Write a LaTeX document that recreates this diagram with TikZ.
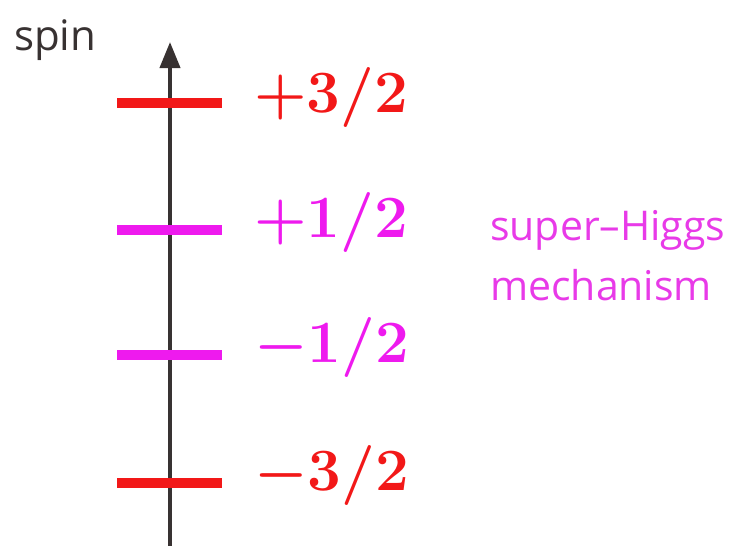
\RequirePackage{fix-cm}
\documentclass[tikz,border=0pt]{standalone}
\usepackage{fontspec}
\newfontfamily\labelsans{Open Sans}
\usetikzlibrary{arrows.meta}
\definecolor{axisgray}{HTML}{383232}
\definecolor{spinred}{HTML}{F21818}
\definecolor{spinmag}{HTML}{EE1AEE}
\definecolor{textmag}{HTML}{E83AE8}
\tikzset{
  levelbar/.style={line width=10pt},
  spinlabel/.style={anchor=base west, inner sep=0pt, font=\fontsize{60}{62}\selectfont\boldmath},
  sidetext/.style={inner sep=0pt, font=\labelsans\fontsize{41}{62}\selectfont}
}
\begin{document}
\begin{tikzpicture}[x=1pt,y=-1pt]
\useasboundingbox (0,0) rectangle (734,546);
\coordinate (bot) at (170,548);
\coordinate (top) at (170,42);
\draw[axisgray, line width=4pt, -{Triangle[width=20pt,length=26pt]}] (bot) -- (top);
\node[anchor=base west, inner sep=0pt, text=axisgray, font=\labelsans\fontsize{42}{50}\selectfont] (spin) at (14,50) {spin};
% bars
\coordinate (b1l) at (117,103); \coordinate (b1r) at (222,103);
\coordinate (b2l) at (117,230); \coordinate (b2r) at (222,230);
\coordinate (b3l) at (117,355); \coordinate (b3r) at (222,355);
\coordinate (b4l) at (117,483); \coordinate (b4r) at (222,483);
\draw[levelbar, spinred] (b1l) -- (b1r);
\draw[levelbar, spinmag] (b2l) -- (b2r);
\draw[levelbar, spinmag] (b3l) -- (b3r);
\draw[levelbar, spinred] (b4l) -- (b4r);
\node[spinlabel, text=spinred] (l1) at (254,112) {$+3/2$};
\node[spinlabel, text=spinmag] (l2) at (254,237) {$+1/2$};
\node[spinlabel, text=spinmag] (l3) at (254,362) {$-1/2$};
\node[spinlabel, text=spinred] (l4) at (254,490) {$-3/2$};
\node[sidetext, anchor=base west, text=textmag] (sh) at (490,240) {super–Higgs};
\node[sidetext, anchor=base west, text=textmag] (mech) at (490,300) {mechanism};
\end{tikzpicture}
\end{document}
